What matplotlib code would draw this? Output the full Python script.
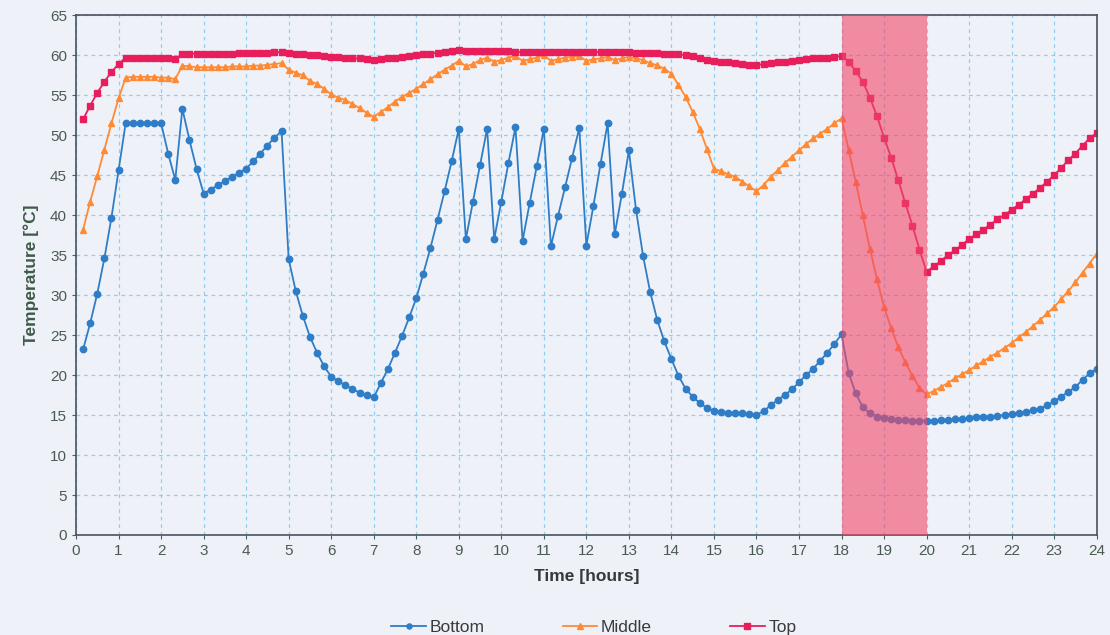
import numpy as np
import matplotlib
matplotlib.use("Agg")
import matplotlib.pyplot as plt

plt.rcParams['font.family'] = ['Liberation Sans', 'DejaVu Sans']

# 10-minute samples over 24 hours
time_h = np.arange(1, 145) / 6

bottom = [
    23.2, 26.5, 30.2, 34.6, 39.7, 45.6,
    51.5, 51.5, 51.5, 51.5, 51.5, 51.5,
    47.7, 44.4, 53.3, 49.4, 45.8, 42.7,
    43.2, 43.75, 44.25, 44.8, 45.3, 45.8,
    46.75, 47.7, 48.7, 49.7, 50.5, 34.5,
    30.5, 27.4, 24.8, 22.8, 21.1, 19.8,
    19.2, 18.75, 18.25, 17.8, 17.5, 17.2,
    19.0, 20.75, 22.8, 24.9, 27.2, 29.6,
    32.7, 35.9, 39.4, 43.0, 46.75, 50.8,
    37.0, 41.7, 46.25, 50.8, 37.0, 41.7,
    46.5, 51.0, 36.8, 41.5, 46.1, 50.8,
    36.1, 39.9, 43.5, 47.2, 50.9, 36.2,
    41.2, 46.4, 51.5, 37.6, 42.6, 48.1,
    40.7, 34.9, 30.4, 26.9, 24.2, 22.0,
    19.9, 18.3, 17.3, 16.5, 15.9, 15.5,
    15.4, 15.3, 15.2, 15.2, 15.1, 15.0,
    15.5, 16.2, 16.9, 17.5, 18.2, 19.1,
    20.0, 20.8, 21.8, 22.8, 23.9, 25.1,
    20.3, 17.7, 16.0, 15.2, 14.8, 14.6,
    14.5, 14.4, 14.4, 14.3, 14.3, 14.3,
    14.3, 14.4, 14.4, 14.5, 14.5, 14.6,
    14.7, 14.7, 14.8, 14.9, 15.0, 15.1,
    15.3, 15.4, 15.6, 15.8, 16.2, 16.7,
    17.3, 17.9, 18.5, 19.4, 20.2, 20.8,
]

middle = [
    38.2, 41.7, 44.9, 48.2, 51.5, 54.6,
    57.2, 57.3, 57.3, 57.3, 57.3, 57.2,
    57.2, 57.0, 58.7, 58.6, 58.5, 58.5,
    58.5, 58.5, 58.5, 58.6, 58.6, 58.6,
    58.7, 58.7, 58.8, 58.9, 59.0, 58.2,
    57.8, 57.5, 56.8, 56.4, 55.8, 55.1,
    54.7, 54.4, 53.9, 53.4, 52.8, 52.3,
    52.9, 53.5, 54.2, 54.8, 55.3, 55.8,
    56.4, 57.0, 57.6, 58.2, 58.7, 59.3,
    58.6, 58.9, 59.4, 59.7, 59.2, 59.4,
    59.7, 59.9, 59.3, 59.5, 59.7, 60.0,
    59.3, 59.5, 59.7, 59.8, 59.9, 59.3,
    59.5, 59.6, 59.8, 59.4, 59.6, 59.8,
    59.6, 59.4, 59.0, 58.75, 58.3, 57.7,
    56.25, 54.8, 52.9, 50.8, 48.3, 45.8,
    45.5, 45.1, 44.8, 44.2, 43.6, 43.0,
    43.75, 44.8, 45.6, 46.5, 47.3, 48.1,
    48.9, 49.6, 50.2, 50.8, 51.5, 52.1,
    48.2, 44.2, 40.0, 35.8, 32.0, 28.5,
    25.9, 23.5, 21.6, 19.9, 18.4, 17.6,
    18.0, 18.5, 19.0, 19.6, 20.1, 20.6,
    21.2, 21.7, 22.3, 22.8, 23.4, 24.0,
    24.7, 25.4, 26.1, 26.9, 27.7, 28.5,
    29.5, 30.5, 31.6, 32.8, 33.95, 35.2,
]

top = [
    52.0, 53.7, 55.3, 56.7, 57.9, 58.9,
    59.7, 59.7, 59.7, 59.7, 59.7, 59.7,
    59.7, 59.5, 60.2, 60.2, 60.2, 60.2,
    60.2, 60.2, 60.2, 60.2, 60.25, 60.25,
    60.3, 60.3, 60.3, 60.35, 60.4, 60.3,
    60.2, 60.1, 60.0, 60.0, 59.9, 59.8,
    59.8, 59.7, 59.6, 59.6, 59.5, 59.4,
    59.5, 59.6, 59.7, 59.8, 59.9, 60.0,
    60.1, 60.2, 60.3, 60.4, 60.5, 60.6,
    60.5, 60.5, 60.5, 60.5, 60.5, 60.5,
    60.5, 60.4, 60.4, 60.4, 60.4, 60.4,
    60.4, 60.4, 60.4, 60.4, 60.4, 60.4,
    60.4, 60.4, 60.4, 60.4, 60.4, 60.4,
    60.3, 60.3, 60.3, 60.3, 60.2, 60.2,
    60.1, 60.0, 59.9, 59.6, 59.4, 59.3,
    59.2, 59.1, 59.0, 58.9, 58.8, 58.75,
    58.9, 59.0, 59.1, 59.2, 59.3, 59.4,
    59.5, 59.6, 59.65, 59.7, 59.8, 59.9,
    59.2, 58.0, 56.7, 54.7, 52.4, 49.7,
    47.2, 44.4, 41.5, 38.7, 35.7, 32.9,
    33.6, 34.25, 35.0, 35.6, 36.3, 37.0,
    37.6, 38.2, 38.8, 39.5, 40.0, 40.7,
    41.3, 42.0, 42.7, 43.4, 44.2, 45.0,
    45.9, 46.9, 47.7, 48.7, 49.6, 50.3,
]

series_names = ['Bottom', 'Middle', 'Top']
shade_start, shade_end = 18, 20

bg = '#eef2f8'
fig = plt.figure(figsize=(11.1, 6.35), dpi=100, facecolor=bg)
ax = fig.add_axes([0.0685, 0.1575, 0.9195, 0.8185])
ax.set_facecolor(bg)

ax.plot(time_h, bottom, '-o', color='#2f7dc6', lw=1.3, ms=4.6, label=series_names[0])
ax.plot(time_h, middle, '-^', color='#ff8a33', lw=1.3, ms=4.8, label=series_names[1])
ax.plot(time_h, top, '-s', color='#e81e5c', lw=1.3, ms=4.6, label=series_names[2])

# heated period
ax.axvspan(shade_start, shade_end, color='#f2466a', alpha=0.6, lw=0, zorder=5)

ax.set_xlim(0, 24)
ax.set_ylim(0, 65)
ax.set_xticks(range(0, 25))
ax.set_yticks(range(0, 66, 5))
ax.grid(True, color='#8fcdf2', linestyle=(0, (3, 3)), lw=0.9)
ax.set_axisbelow(True)

for s in ax.spines.values():
    s.set_color('#4a5260')
    s.set_linewidth(1.2)

ax.tick_params(colors='#4a6258', labelsize=11, length=3)
for lbl in ax.get_xticklabels() + ax.get_yticklabels():
    lbl.set_color('#4a5a52')

ax.set_xlabel('Time [hours]', fontsize=12.5, fontweight='bold', color='#333a3a', labelpad=8)
ax.set_ylabel('Temperature [°C]', fontsize=12.5, fontweight='bold', color='#3e5a48', labelpad=8)

fig.legend(loc='lower center', bbox_to_anchor=(0.535, -0.025), ncol=3, frameon=False,
           fontsize=12.5, columnspacing=4.5, handlelength=2.0, handletextpad=0.2,
           labelcolor='#3a3a3a', markerscale=0.8)

fig.savefig('out.png', dpi=100, facecolor=bg)
